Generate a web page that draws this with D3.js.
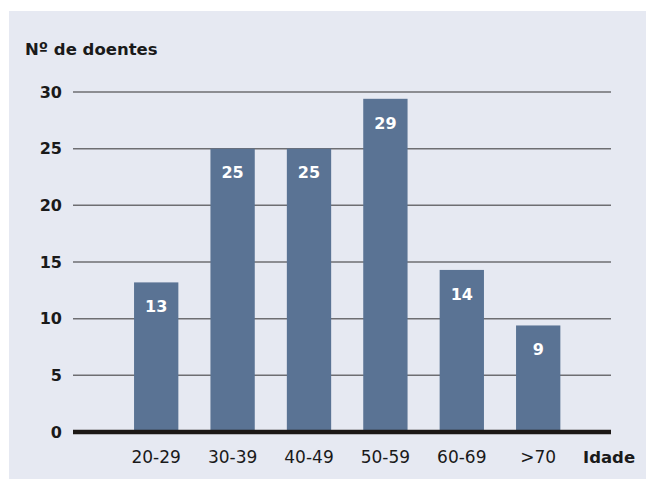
<!DOCTYPE html>
<html>
<head>
<meta charset="utf-8">
<script src="https://cdn.jsdelivr.net/npm/d3@7"></script>
<style>
  body { margin: 0; background: #fff; }
  text { font-family: "DejaVu Sans", sans-serif; }
</style>
</head>
<body>
<div id="chart"></div>
<script>
// Age groups and number of patients
const categories = ["20-29", "30-39", "40-49", "50-59", "60-69", ">70"];
const values = [13.2, 25, 25, 29.4, 14.3, 9.4];
const labels = ["13", "25", "25", "29", "14", "9"];
const yTicks = [0, 5, 10, 15, 20, 25, 30];

const width = 647;
const height = 479;

const svg = d3.select("#chart").append("svg")
    .attr("width", width)
    .attr("height", height);

// panel background
svg.append("rect")
    .attr("x", 9)
    .attr("y", 11)
    .attr("width", 637)
    .attr("height", 468)
    .attr("fill", "#e6e9f2");

const y = d3.scaleLinear()
    .domain([0, 30])
    .range([432, 92]);

const x = d3.scaleBand()
    .domain(categories)
    .range([118, 576.4])
    .paddingInner(0.42)
    .paddingOuter(0.21);

const gridLeft = 73;
const gridRight = 611;

// gridlines
svg.selectAll(".grid")
    .data(yTicks.filter(d => d > 0))
    .join("line")
    .attr("class", "grid")
    .attr("x1", gridLeft)
    .attr("x2", gridRight)
    .attr("y1", d => y(d))
    .attr("y2", d => y(d))
    .attr("stroke", "#6e6e72")
    .attr("stroke-width", 1.5);

// y tick labels
svg.selectAll(".ytick")
    .data(yTicks)
    .join("text")
    .attr("class", "ytick")
    .attr("x", 62)
    .attr("y", d => y(d))
    .attr("dy", "0.36em")
    .attr("text-anchor", "end")
    .attr("font-size", 16)
    .attr("font-weight", "bold")
    .attr("fill", "#1a1a1a")
    .text(d => d);

// bars
svg.selectAll(".bar")
    .data(values)
    .join("rect")
    .attr("class", "bar")
    .attr("x", (d, i) => x(categories[i]))
    .attr("width", x.bandwidth())
    .attr("y", d => y(d))
    .attr("height", d => y(0) - y(d))
    .attr("fill", "#5a7394");

// value labels inside bars
svg.selectAll(".val")
    .data(values)
    .join("text")
    .attr("class", "val")
    .attr("x", (d, i) => x(categories[i]) + x.bandwidth() / 2)
    .attr("y", d => y(d) + 24)
    .attr("dy", "0.36em")
    .attr("text-anchor", "middle")
    .attr("font-size", 16)
    .attr("font-weight", "bold")
    .attr("fill", "#fff")
    .text((d, i) => labels[i]);

// baseline
svg.append("line")
    .attr("x1", gridLeft)
    .attr("x2", gridRight)
    .attr("y1", y(0))
    .attr("y2", y(0))
    .attr("stroke", "#1c1816")
    .attr("stroke-width", 4.5);

// x tick labels
svg.selectAll(".xtick")
    .data(categories)
    .join("text")
    .attr("class", "xtick")
    .attr("x", d => x(d) + x.bandwidth() / 2)
    .attr("y", 463)
    .attr("text-anchor", "middle")
    .attr("font-size", 17)
    .attr("fill", "#1a1a1a")
    .text(d => d);

// axis titles
svg.append("text")
    .attr("x", 25)
    .attr("y", 55)
    .attr("font-size", 16.5)
    .attr("font-weight", "bold")
    .attr("fill", "#1a1a1a")
    .text("Nº de doentes");

svg.append("text")
    .attr("x", 583)
    .attr("y", 463)
    .attr("font-size", 16.5)
    .attr("font-weight", "bold")
    .attr("fill", "#1a1a1a")
    .text("Idade");
</script>
</body>
</html>
